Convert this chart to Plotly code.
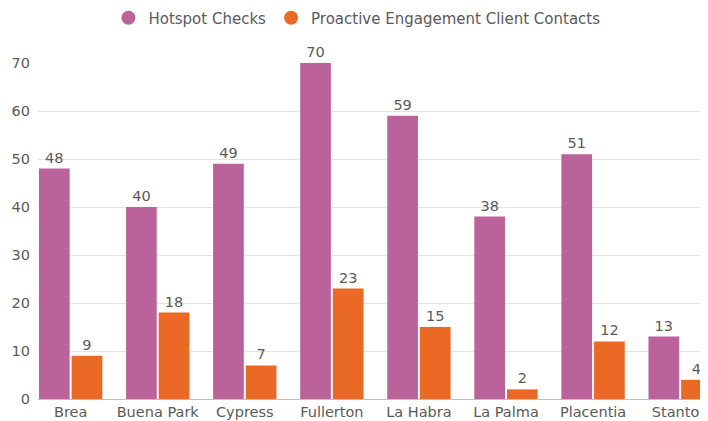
import plotly.graph_objects as go

cities = ["Brea", "Buena Park", "Cypress", "Fullerton", "La Habra", "La Palma", "Placentia", "Stanton"]
hotspot = [48, 40, 49, 70, 59, 38, 51, 13]
proactive = [9, 18, 7, 23, 15, 2, 12, 4]
series_names = ["Hotspot Checks", "Proactive Engagement Client Contacts"]
colors = ["#BA6299", "#EA6A25"]
yticks = [0, 10, 20, 30, 40, 50, 60, 70]

font_family = "'DejaVu Sans', sans-serif"
gray = "#5a5a5a"
fs = 14.5

fig = go.Figure()
for name, vals, col in zip(series_names, [hotspot, proactive], colors):
    fig.add_trace(go.Bar(
        x=cities, y=vals, name=name, marker=dict(color=col, line=dict(width=0)),
        text=vals, textposition="outside", cliponaxis=False,
        textfont=dict(color=gray, size=fs, family=font_family),
        showlegend=False,
    ))
    fig.add_trace(go.Scatter(
        x=[None], y=[None], mode="markers", name=name,
        marker=dict(symbol="circle", size=14, color=col),
    ))

fig.update_layout(
    width=708, height=421,
    margin=dict(l=30, r=8, t=55, b=30, autoexpand=False),
    paper_bgcolor="white", plot_bgcolor="white",
    barmode="group", bargap=0.25, bargroupgap=0.06,
    font=dict(family=font_family, color=gray, size=fs),
    legend=dict(orientation="h", x=0.476, xanchor="center", y=1.134, yanchor="middle",
                font=dict(size=15, color=gray), traceorder="normal"),
    xaxis=dict(range=[-0.375, 7.32], showgrid=False, showline=True, linecolor="#bfbfbf",
               linewidth=1, ticks="", ticklen=0, automargin=False,
               tickfont=dict(size=fs, color=gray)),
    yaxis=dict(range=[0, 70], tickvals=yticks, showgrid=True, gridcolor="#e3e3e3",
               zeroline=False, showline=False, ticks="", ticklen=0, automargin=False,
               ticklabelstandoff=7, tickfont=dict(size=fs, color=gray)),
)

fig.write_html("out.html")
